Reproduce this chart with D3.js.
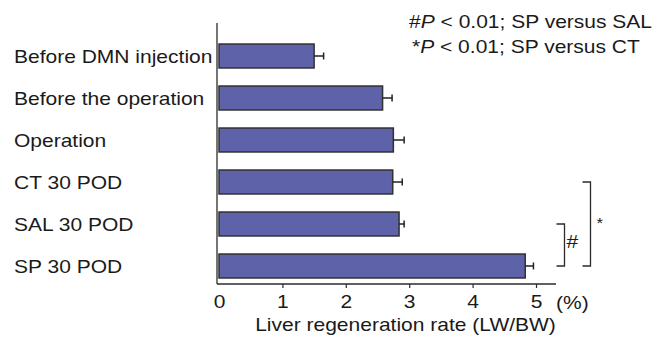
<!DOCTYPE html>
<html>
<head>
<meta charset="utf-8">
<script src="https://cdn.jsdelivr.net/npm/d3@7"></script>
<style>
  body { margin: 0; background: #fff; }
  text { font-family: "Liberation Sans", Arial, sans-serif; fill: #1a1a1a; }
</style>
</head>
<body>
<svg id="chart"></svg>
<script>
// data
const categories = ['Before DMN injection', 'Before the operation', 'Operation',
                    'CT 30 POD', 'SAL 30 POD', 'SP 30 POD'];
const values = [1.50, 2.58, 2.75, 2.74, 2.84, 4.83];
const errors = [0.15, 0.15, 0.17, 0.15, 0.08, 0.13];
const xTicks = [0, 1, 2, 3, 4, 5];
const legendLines = [
  ['#', 'P', ' < 0.01; SP versus SAL'],
  ['*', 'P', ' < 0.01; SP versus CT']
];

const w = 670, h = 339;
const fs = 18.6;      // font size
const sx = 1.13;      // the figure text is a little stretched sideways
const ink = '#2b2b2b';

const svg = d3.select('#chart')
  .attr('width', w)
  .attr('height', h);

const x = d3.scaleLinear()
  .domain([0, 5])
  .range([219, 536]);
const y = d3.scaleBand()
  .domain(categories)
  .range([35, 287])
  .paddingInner(0.43)
  .paddingOuter(0.215);
const mid = c => y(c) + y.bandwidth() / 2;

const axisY = 284;
const axisX = x(0) - 2;

// axes lines
svg.append('line')
  .attr('x1', axisX).attr('x2', axisX)
  .attr('y1', 23).attr('y2', axisY)
  .attr('stroke', ink).attr('stroke-width', 1.3);
svg.append('line')
  .attr('x1', axisX).attr('x2', x(5) + 20)
  .attr('y1', axisY).attr('y2', axisY)
  .attr('stroke', ink).attr('stroke-width', 1.3);

const xAxis = d3.axisBottom(x)
  .tickValues(xTicks)
  .tickSizeInner(4)
  .tickSizeOuter(0)
  .tickPadding(7)
  .tickFormat(d3.format('d'));
const gx = svg.append('g')
  .attr('transform', `translate(0, ${axisY})`)
  .call(xAxis);
gx.select('.domain').remove();
gx.selectAll('.tick line')
  .attr('stroke', ink).attr('stroke-width', 1.2)
  .filter(d => d === 0).remove();
gx.selectAll('.tick text')
  .attr('font-size', fs)
  .attr('font-family', '"Liberation Sans", Arial, sans-serif')
  .attr('fill', '#1a1a1a')
  .attr('transform', `scale(${sx},1)`);

svg.append('text')
  .attr('transform', `translate(556, 308.5) scale(${sx},1)`)
  .attr('font-size', fs)
  .text('(%)');

svg.append('text')
  .attr('transform', `translate(405.5, 331) scale(${sx},1)`)
  .attr('text-anchor', 'middle')
  .attr('font-size', fs)
  .text('Liver regeneration rate (LW/BW)');

// category labels
svg.selectAll('.cat')
  .data(categories)
  .join('text')
    .attr('class', 'cat')
    .attr('transform', d => `translate(14, ${mid(d)}) scale(${sx},1)`)
    .attr('dy', '0.36em')
    .attr('font-size', fs)
    .text(d => d);

// bars
svg.selectAll('.bar')
  .data(values)
  .join('rect')
    .attr('class', 'bar')
    .attr('x', x(0))
    .attr('y', (d, i) => y(categories[i]))
    .attr('width', d => x(d) - x(0))
    .attr('height', y.bandwidth())
    .attr('fill', '#5e62a9')
    .attr('stroke', '#303030')
    .attr('stroke-width', 1.5);

// error bars
const err = svg.selectAll('.err')
  .data(values)
  .join('g')
    .attr('class', 'err')
    .attr('stroke', '#222')
    .attr('stroke-width', 1.5);
err.append('line')
  .attr('x1', d => x(d))
  .attr('x2', (d, i) => x(d + errors[i]))
  .attr('y1', (d, i) => mid(categories[i]))
  .attr('y2', (d, i) => mid(categories[i]));
err.append('line')
  .attr('x1', (d, i) => x(d + errors[i]))
  .attr('x2', (d, i) => x(d + errors[i]))
  .attr('y1', (d, i) => mid(categories[i]) - 3.5)
  .attr('y2', (d, i) => mid(categories[i]) + 3.5);

// significance brackets
function bracket(from, to, bx, mark, mx, my, size) {
  const y1 = mid(from), y2 = mid(to);
  svg.append('path')
    .attr('d', `M${bx - 8},${y1}H${bx}V${y2}H${bx - 8}`)
    .attr('fill', 'none')
    .attr('stroke', ink)
    .attr('stroke-width', 1.3);
  svg.append('text')
    .attr('transform', `translate(${mx}, ${(y1 + y2) / 2 + my}) scale(${sx},1)`)
    .attr('font-size', size)
    .text(mark);
}
bracket('SAL 30 POD', 'SP 30 POD', 564.5, '#', 566.5, 2.5, fs);
bracket('CT 30 POD', 'SP 30 POD', 590.5, '*', 596.5, 4, 15);

// legend
const leg = svg.selectAll('.leg')
  .data(legendLines)
  .join('text')
    .attr('class', 'leg')
    .attr('transform', (d, i) => `translate(${409 + i * 3}, ${28 + i * 25}) scale(${sx},1)`)
    .attr('font-size', fs);
leg.append('tspan').text(d => d[0]);
leg.append('tspan').attr('font-style', 'italic').text(d => d[1]);
leg.append('tspan').text(d => d[2]);
</script>
</body>
</html>
